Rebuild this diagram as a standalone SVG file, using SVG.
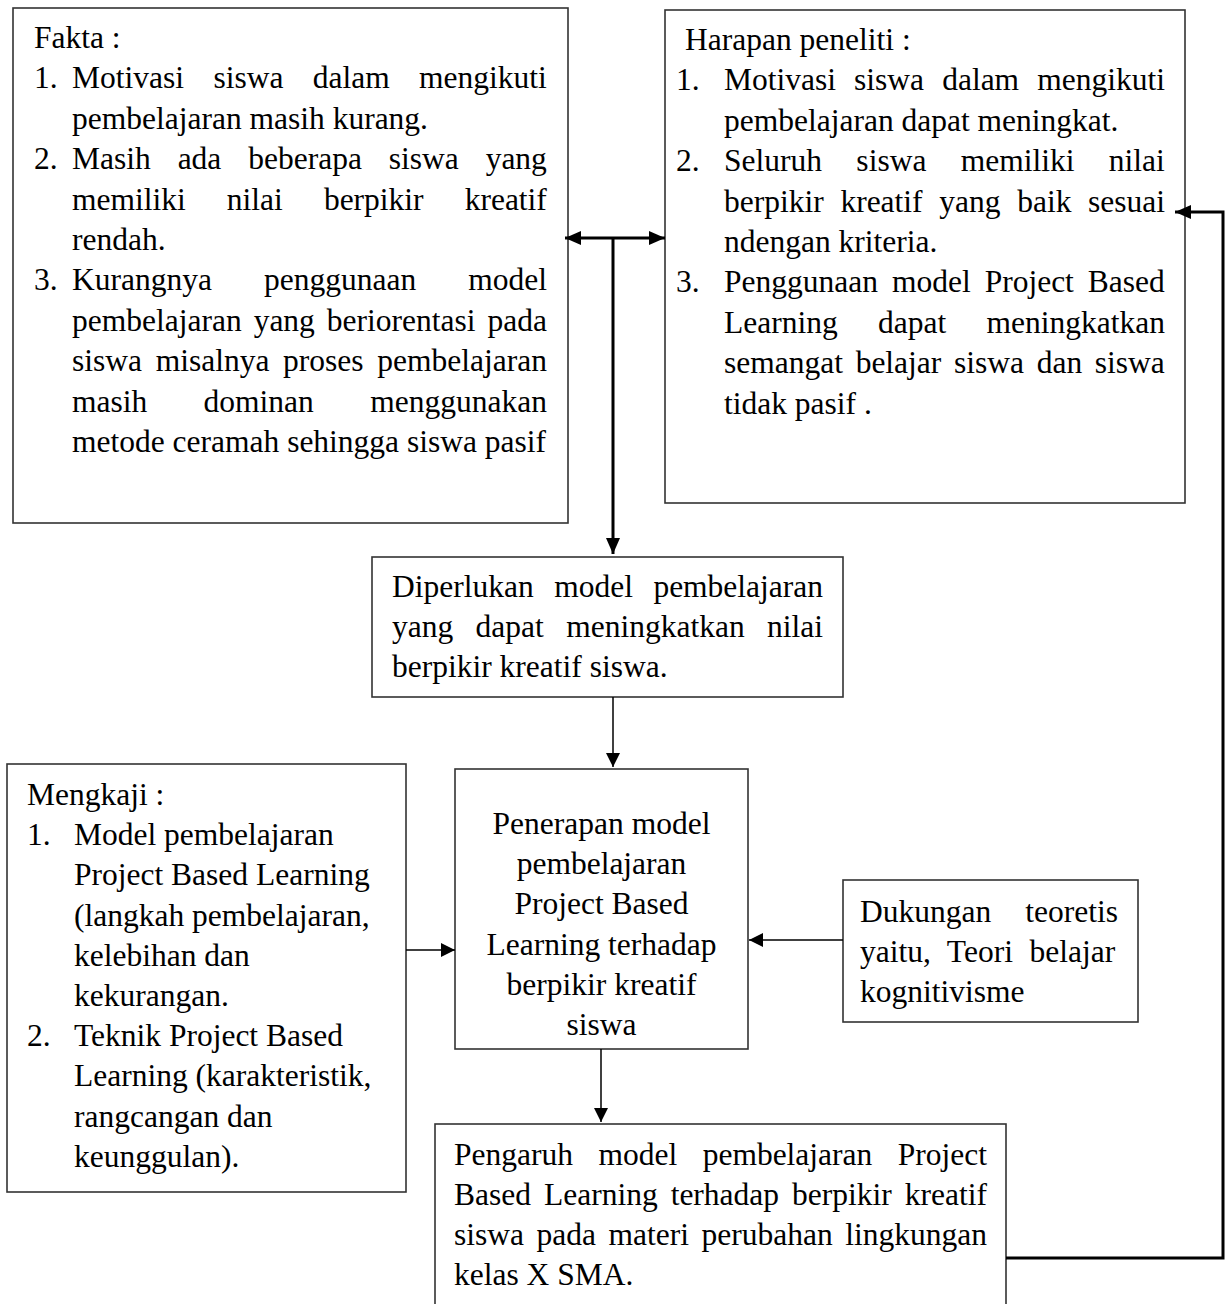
<svg xmlns="http://www.w3.org/2000/svg" width="1232" height="1304" viewBox="0 0 1232 1304">
<style>
text{font-family:"Liberation Serif","Times New Roman",serif;font-size:31.5px;fill:#000}
.box{fill:#fff;stroke:#333;stroke-width:1.6}
.thin{fill:none;stroke:#000;stroke-width:1.5}
.bold{fill:none;stroke:#000;stroke-width:3}
.c{text-anchor:middle}
</style>
<defs>
<marker id="ah" viewBox="0 0 14 14" refX="14" refY="7" markerWidth="14" markerHeight="14" markerUnits="userSpaceOnUse" orient="auto"><path d="M0,0 L14,7 L0,14 z" fill="#000"/></marker>
<marker id="ahb" viewBox="0 0 16 14" refX="16" refY="7" markerWidth="16" markerHeight="14" markerUnits="userSpaceOnUse" orient="auto-start-reverse"><path d="M0,0 L16,7 L0,14 z" fill="#000"/></marker>
</defs>
<rect width="1232" height="1304" fill="#fff"/>

<g id="fakta">
<rect class="box" x="13" y="8" width="555" height="515"/>
<text x="34" y="48">Fakta :</text>
<text x="34" y="88.4">1.</text>
<text x="72" y="88.4" style="word-spacing:21.5px">Motivasi siswa dalam mengikuti</text>
<text x="72" y="128.8">pembelajaran masih kurang.</text>
<text x="34" y="169.2">2.</text>
<text x="72" y="169.2" style="word-spacing:19px">Masih ada beberapa siswa yang</text>
<text x="72" y="209.6" style="word-spacing:33.2px">memiliki nilai berpikir kreatif</text>
<text x="72" y="250">rendah.</text>
<text x="34" y="290.4">3.</text>
<text x="72" y="290.4" style="word-spacing:44.2px">Kurangnya penggunaan model</text>
<text x="72" y="330.8" style="word-spacing:4.1px">pembelajaran yang beriorentasi pada</text>
<text x="72" y="371.2" style="word-spacing:5.8px">siswa misalnya proses pembelajaran</text>
<text x="72" y="411.6" style="word-spacing:48.5px">masih dominan menggunakan</text>
<text x="72" y="452">metode ceramah sehingga siswa pasif</text>
</g>

<g id="harapan">
<rect class="box" x="665" y="10" width="520" height="493"/>
<text x="685" y="50">Harapan peneliti :</text>
<text x="676" y="90.4">1.</text>
<text x="724" y="90.4" style="word-spacing:10.2px">Motivasi siswa dalam mengikuti</text>
<text x="724" y="130.8">pembelajaran dapat meningkat.</text>
<text x="676" y="171.2">2.</text>
<text x="724" y="171.2" style="word-spacing:26.5px">Seluruh siswa memiliki nilai</text>
<text x="724" y="211.6" style="word-spacing:8.8px">berpikir kreatif yang baik sesuai</text>
<text x="724" y="252">ndengan kriteria.</text>
<text x="676" y="292.4">3.</text>
<text x="724" y="292.4" style="word-spacing:6.1px">Penggunaan model Project Based</text>
<text x="724" y="332.8" style="word-spacing:32.4px">Learning dapat meningkatkan</text>
<text x="724" y="373.2" style="word-spacing:4.8px">semangat belajar siswa dan siswa</text>
<text x="724" y="413.6">tidak pasif .</text>
</g>

<g id="diperlukan">
<rect class="box" x="372" y="557" width="471" height="140"/>
<text x="392" y="597" style="word-spacing:12.6px">Diperlukan model pembelajaran</text>
<text x="392" y="637" style="word-spacing:14.5px">yang dapat meningkatkan nilai</text>
<text x="392" y="677">berpikir kreatif siswa.</text>
</g>

<g id="mengkaji">
<rect class="box" x="7" y="764" width="399" height="428"/>
<text x="27" y="805">Mengkaji :</text>
<text x="27" y="845.2">1.</text>
<text x="74" y="845.2">Model pembelajaran</text>
<text x="74" y="885.4">Project Based Learning</text>
<text x="74" y="925.6">(langkah pembelajaran,</text>
<text x="74" y="965.8">kelebihan dan</text>
<text x="74" y="1006">kekurangan.</text>
<text x="27" y="1046.2">2.</text>
<text x="74" y="1046.2">Teknik Project Based</text>
<text x="74" y="1086.4">Learning (karakteristik,</text>
<text x="74" y="1126.6">rangcangan dan</text>
<text x="74" y="1166.8">keunggulan).</text>
</g>

<g id="penerapan">
<rect class="box" x="455" y="769" width="293" height="280"/>
<text class="c" x="601.5" y="834">Penerapan model</text>
<text class="c" x="601.5" y="874.2">pembelajaran</text>
<text class="c" x="601.5" y="914.4">Project Based</text>
<text class="c" x="601.5" y="954.6">Learning terhadap</text>
<text class="c" x="601.5" y="994.8">berpikir kreatif</text>
<text class="c" x="601.5" y="1035">siswa</text>
</g>

<g id="dukungan">
<rect class="box" x="843" y="880" width="295" height="142"/>
<text x="860" y="922" style="word-spacing:26.2px">Dukungan teoretis</text>
<text x="860" y="962" style="word-spacing:8.7px">yaitu, Teori belajar</text>
<text x="860" y="1002">kognitivisme</text>
</g>

<g id="pengaruh">
<rect class="box" x="435" y="1124" width="571" height="200"/>
<text x="454" y="1165" style="word-spacing:17.6px">Pengaruh model pembelajaran Project</text>
<text x="454" y="1205" style="word-spacing:5.1px">Based Learning terhadap berpikir kreatif</text>
<text x="454" y="1245" style="word-spacing:4.65px">siswa pada materi perubahan lingkungan</text>
<text x="454" y="1285">kelas X SMA.</text>
</g>

<g id="connectors">
<path class="bold" d="M565,238 H665" marker-start="url(#ahb)" marker-end="url(#ahb)"/>
<path class="bold" d="M613,238 V554" marker-end="url(#ahb)"/>
<path class="bold" d="M1006,1258 H1223 V212 H1175" marker-end="url(#ahb)"/>
<path class="thin" d="M613,697 V767" marker-end="url(#ah)"/>
<path class="thin" d="M406,950 H455" marker-end="url(#ah)"/>
<path class="thin" d="M843,940 H749" marker-end="url(#ah)"/>
<path class="thin" d="M601,1049 V1122" marker-end="url(#ah)"/>
</g>
</svg>
